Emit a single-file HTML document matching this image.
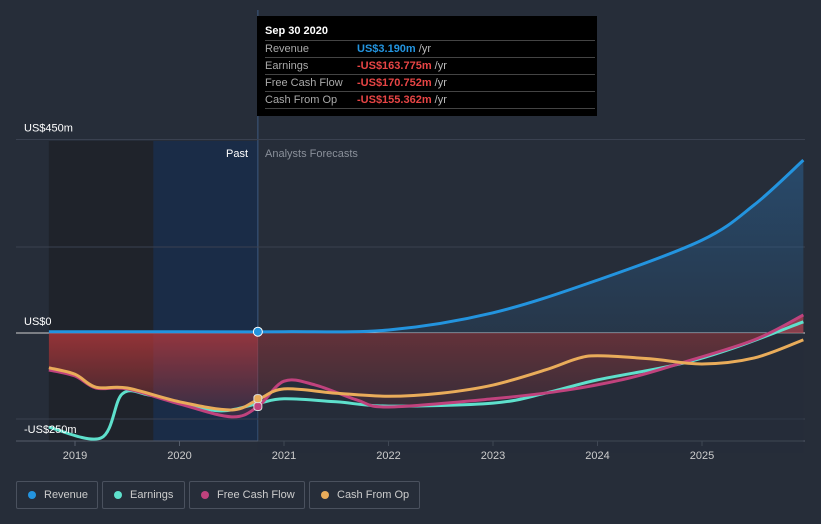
<!DOCTYPE html>
<html><head><meta charset="utf-8"><style>
body{margin:0;background:#262d39;font-family:"Liberation Sans",sans-serif;}
svg{display:block}
</style></head><body>
<svg id="c" width="821" height="524">
<rect width="821" height="524" fill="#262d39"/>
<g id="bg"></g>
<g id="grid"></g>
<g id="areas"></g>
<g id="lines"></g>
<g id="labels"></g>
</svg>
<script>
const years=[2019,2020,2021,2022,2023,2024,2025];
const yTicks=[450,200,0,-200];
const yTickLabels={450:"US$450m",0:"US$0",'-200':"-US$250m"};
const revX=[2018.75,2020,2021,2022,2023,2024,2025,2025.5,2025.97];
const revY=[3,3,3,7,47,123,216,298,402];
const earnX=[2018.75,2019.25,2019.45,2019.7,2020,2020.4,2020.75,2021,2021.5,2022,2023,2023.5,2024,2024.75,2025.3,2025.97];
const earnY=[-219,-244,-142,-144,-163,-181,-164,-153,-160,-170,-163,-140,-109,-74,-35,26];
const fcfX=[2018.75,2019,2019.2,2019.5,2020,2020.5,2020.75,2021,2021.3,2021.7,2022,2023,2023.7,2024.3,2024.8,2025.5,2025.97];
const fcfY=[-86,-100,-128,-130,-165,-195,-171,-112,-121,-156,-172,-153,-133,-105,-70,-16,42];
const cfoX=[2018.75,2019,2019.2,2019.5,2020,2020.5,2020.75,2021,2021.5,2022,2022.5,2023,2023.5,2023.8,2024,2024.5,2025,2025.5,2025.97];
const cfoY=[-81,-96,-126,-128,-160,-179,-155,-130,-140,-147,-140,-121,-86,-60,-53,-60,-72,-58,-16];
const X=t=>75+(t-2019)*104.5;
const Y=v=>333-v*0.43;
const NS="http://www.w3.org/2000/svg";
function mk(p,tag,a){const e=document.createElementNS(NS,tag);for(const k in a)e.setAttribute(k,a[k]);document.getElementById(p).appendChild(e);return e;}
function path(xs,ys){const P=xs.map((x,i)=>[X(x),Y(ys[i])]);let d="M"+P[0];for(let i=0;i<P.length-1;i++){const p0=P[i-1]||P[i],p1=P[i],p2=P[i+1],p3=P[i+2]||p2;const c1=[p1[0]+(p2[0]-p0[0])/6,p1[1]+(p2[1]-p0[1])/6],c2=[p2[0]-(p3[0]-p1[0])/6,p2[1]-(p3[1]-p1[1])/6];d+="C"+c1+" "+c2+" "+p2;}return d;}
const defs=document.createElementNS(NS,"defs");document.getElementById("c").prepend(defs);
defs.innerHTML='<linearGradient id="rg" x1="0" y1="0" x2="0" y2="1"><stop offset="0" stop-color="#c0393b" stop-opacity="0.85"/><stop offset="1" stop-color="#c0393b" stop-opacity="0.15"/></linearGradient><linearGradient id="bgr" x1="0" y1="0" x2="0" y2="1"><stop offset="0" stop-color="#2a6da8" stop-opacity="0.45"/><stop offset="1" stop-color="#2a6da8" stop-opacity="0.15"/></linearGradient>';
let e=mk("bg","rect",{x:X(2018.75),y:141,width:X(2019.75)-X(2018.75),height:300,fill:"#1f232b"});

e=mk("bg","rect",{x:X(2019.75),y:141,width:X(2020.75)-X(2019.75),height:300,fill:"#1a2c47"});

mk("bg","line",{x1:X(2020.75),x2:X(2020.75),y1:10,y2:441,stroke:"#3d5a80","stroke-width":1});
yTicks.forEach(v=>{const l=mk("grid","line",{x1:16,x2:805,y1:Y(v),y2:Y(v),stroke:v===0?"#d0d0d0":"#3a4150","stroke-width":1});
 if(yTickLabels[v]){const t=mk("labels","text",{x:24,y:v<0?Y(v)+14:Y(v)-8,fill:"#fff","font-size":11});t.textContent=yTickLabels[v];}});
mk("grid","line",{x1:16,x2:805,y1:441,y2:441,stroke:"#555d6b"});
years.forEach(y=>{mk("grid","line",{x1:X(y),x2:X(y),y1:441,y2:446,stroke:"#555d6b"});const t=mk("labels","text",{x:X(y),y:459,fill:"#ccc","font-size":11,"text-anchor":"middle"});t.textContent=y;});
const x0=X(2018.75),x1=X(2025.97);
e=mk("areas","path",{d:path(fcfX,fcfY)+"L"+x1+","+Y(0)+"L"+x0+","+Y(0)+"Z",fill:"url(#rg)"});

mk("areas","rect",{x:X(2020.75),y:Y(0),width:x1-X(2020.75),height:120,fill:"#262d39",opacity:0.45});
e=mk("areas","path",{d:path(revX,revY)+"L"+x1+","+Y(0)+"L"+x0+","+Y(0)+"Z",fill:"url(#bgr)"});

[[revX,revY,"#2394df","revenue-line"],[earnX,earnY,"#5ee0cc","earnings-line"],[fcfX,fcfY,"#c0427d","fcf-line"],[cfoX,cfoY,"#e9ac5a","cfo-line"]].forEach(s=>{const l=mk("lines","path",{d:path(s[0],s[1]),fill:"none",stroke:s[2],"stroke-width":3});});
mk("lines","circle",{cx:X(2020.75),cy:Y(3),r:4.5,fill:"#2394df",stroke:"#fff","stroke-width":1});
mk("lines","rect",{x:X(2020.75)-4,y:Y(-171)-4,width:8,height:8,rx:3,fill:"#c0427d",stroke:"#ddd"});
mk("lines","rect",{x:X(2020.75)-4,y:Y(-155)-5,width:8,height:8,rx:3,fill:"#e9ac5a",stroke:"#ddd"});
let t=mk("labels","text",{x:248,y:157,fill:"#fff","font-size":11,"text-anchor":"end"});t.textContent="Past";
t=mk("labels","text",{x:265,y:157,fill:"#8a909a","font-size":11});t.textContent="Analysts Forecasts";
</script>
<div style="position:absolute;left:257px;top:16px;width:340px;height:100px;background:#000;color:#fff;font-size:11px;">
<div style="position:absolute;left:8px;top:9px;font-weight:bold">Sep 30 2020</div>
<div style="position:absolute;left:8px;top:24px;width:330px">
<div style="border-top:1px solid #444;height:16px;line-height:16px"><span style="color:#aaa;display:inline-block;width:92px">Revenue</span><b style="color:#2394df">US$3.190m</b> <span style="color:#bbb">/yr</span></div>
<div style="border-top:1px solid #444;height:16px;line-height:16px"><span style="color:#aaa;display:inline-block;width:92px">Earnings</span><b style="color:#e84545">-US$163.775m</b> <span style="color:#bbb">/yr</span></div>
<div style="border-top:1px solid #444;height:16px;line-height:16px"><span style="color:#aaa;display:inline-block;width:92px">Free Cash Flow</span><b style="color:#e84545">-US$170.752m</b> <span style="color:#bbb">/yr</span></div>
<div style="border-top:1px solid #444;border-bottom:1px solid #444;height:16px;line-height:16px"><span style="color:#aaa;display:inline-block;width:92px">Cash From Op</span><b style="color:#e84545">-US$155.362m</b> <span style="color:#bbb">/yr</span></div>
</div></div>
<div style="position:absolute;left:16px;top:481px;font-size:11px;color:#ccc">
<div style="position:absolute;left:0;width:80px;height:26px;border:1px solid #4a515e;border-radius:2px;line-height:26px"><span style="position:absolute;left:11px;top:9px;width:8px;height:8px;border-radius:50%;background:#2394df"></span><span style="position:absolute;left:27px">Revenue</span></div>
<div style="position:absolute;left:86px;width:81px;height:26px;border:1px solid #4a515e;border-radius:2px;line-height:26px"><span style="position:absolute;left:11px;top:9px;width:8px;height:8px;border-radius:50%;background:#5ee0cc"></span><span style="position:absolute;left:27px">Earnings</span></div>
<div style="position:absolute;left:173px;width:114px;height:26px;border:1px solid #4a515e;border-radius:2px;line-height:26px"><span style="position:absolute;left:11px;top:9px;width:8px;height:8px;border-radius:50%;background:#c0427d"></span><span style="position:absolute;left:27px">Free Cash Flow</span></div>
<div style="position:absolute;left:293px;width:109px;height:26px;border:1px solid #4a515e;border-radius:2px;line-height:26px"><span style="position:absolute;left:11px;top:9px;width:8px;height:8px;border-radius:50%;background:#e9ac5a"></span><span style="position:absolute;left:27px">Cash From Op</span></div>
</div>
</body></html>
